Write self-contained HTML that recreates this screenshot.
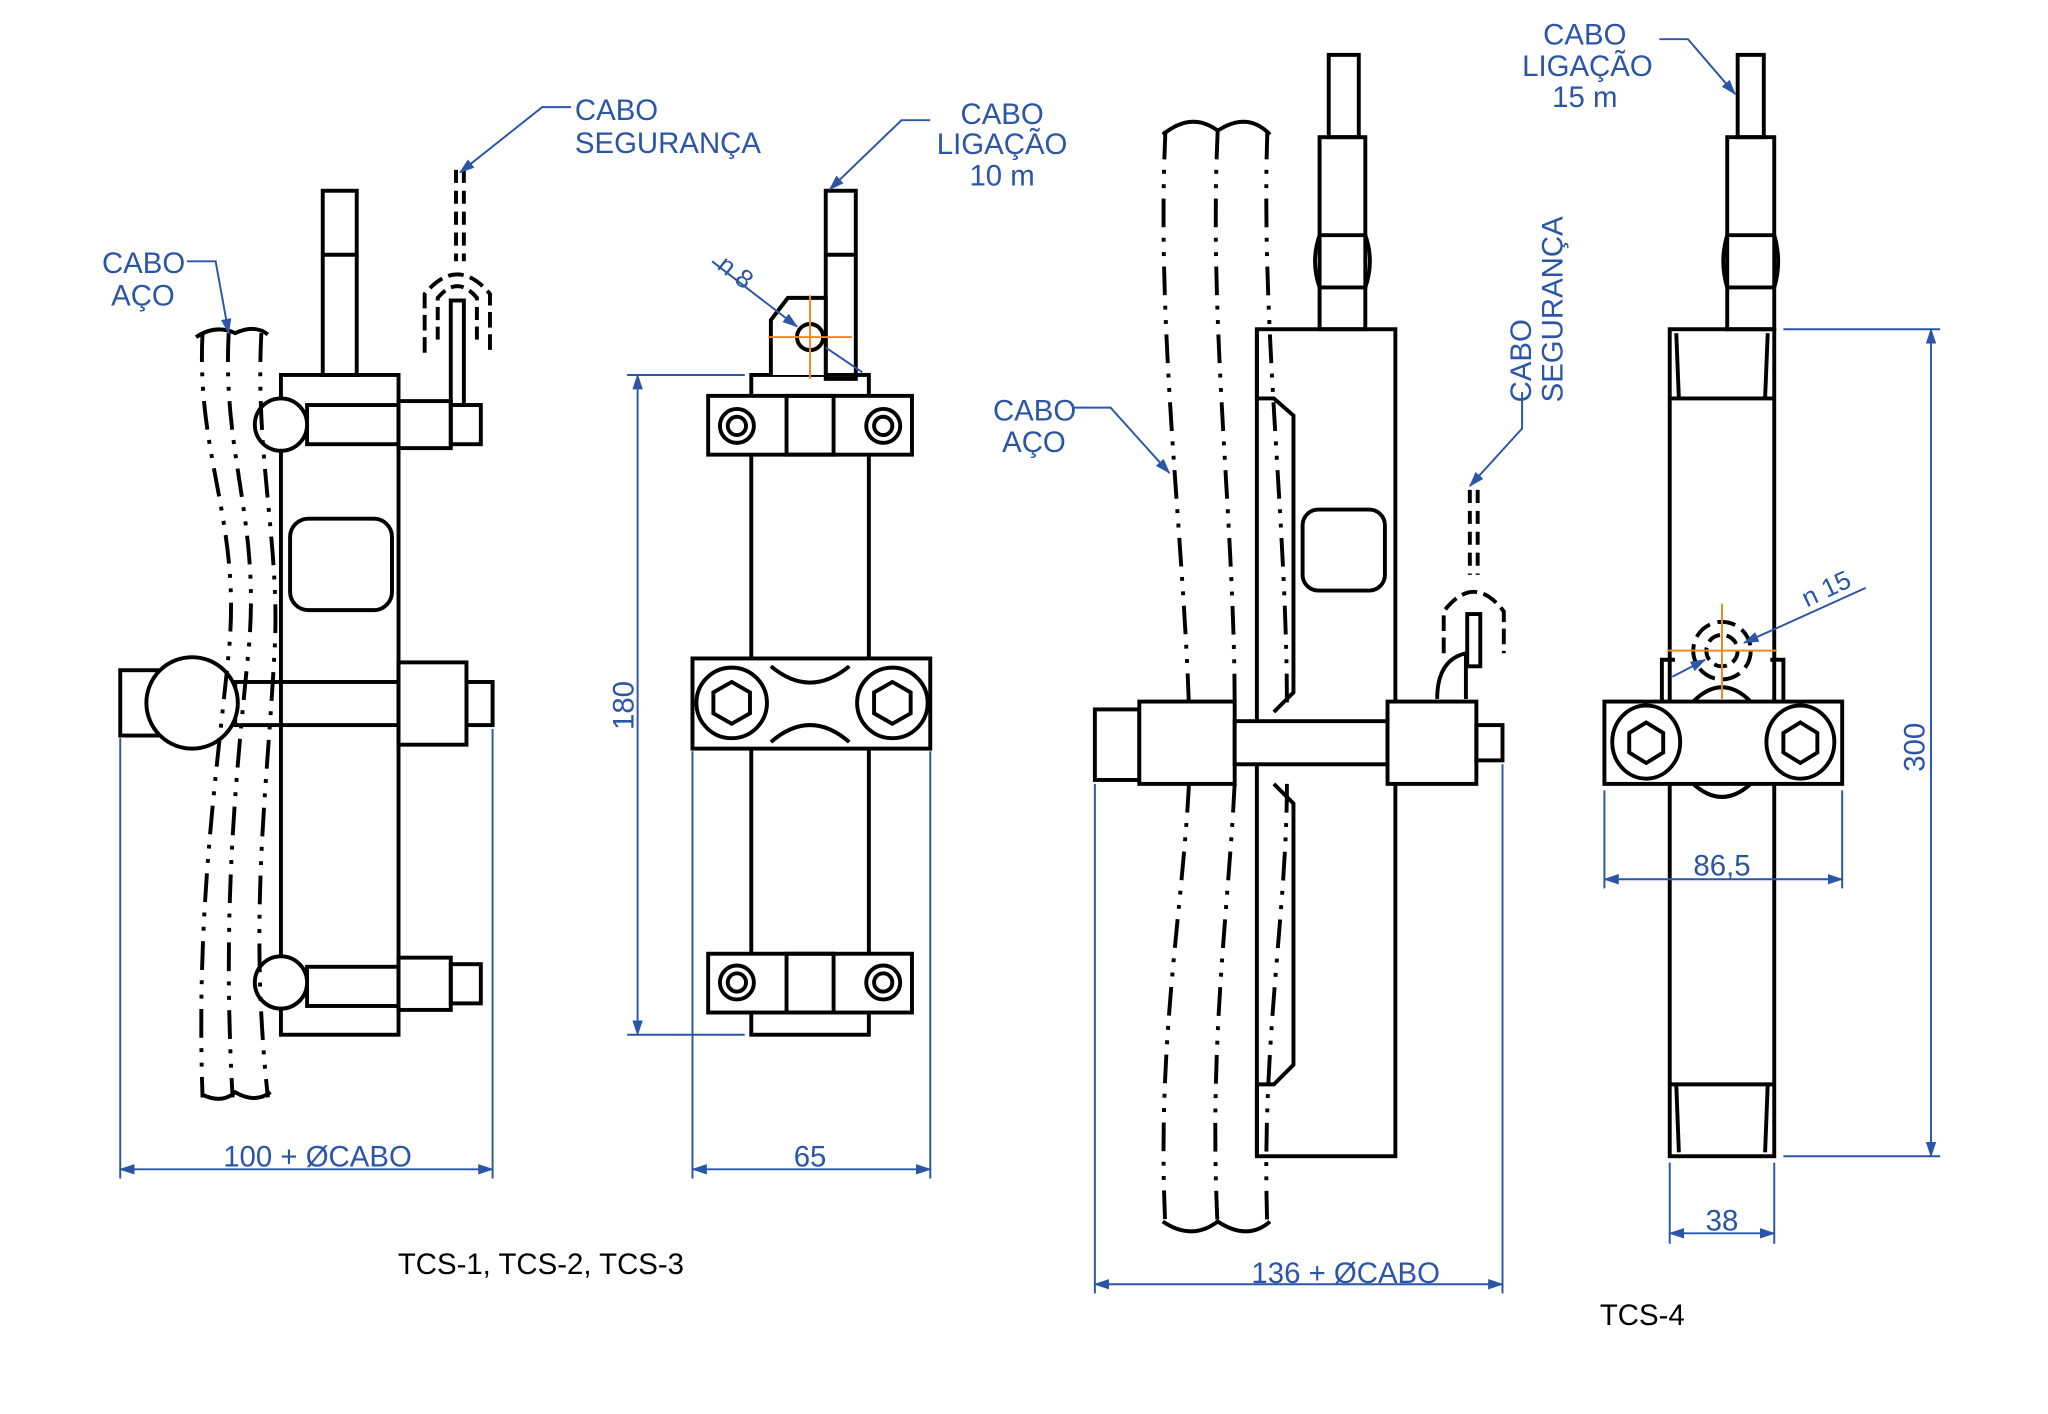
<!DOCTYPE html>
<html><head><meta charset="utf-8"><style>
html,body{margin:0;padding:0;background:#fff;}
svg{display:block;}
text{font-family:"Liberation Sans",sans-serif;}
</style></head><body>
<svg width="2048" height="1414" viewBox="0 0 1567.5 1082.3" xmlns="http://www.w3.org/2000/svg">
<defs>
<marker id="a" markerWidth="12" markerHeight="8" refX="11" refY="4" orient="auto" markerUnits="userSpaceOnUse"><path d="M0,0 L12,4 L0,8z" fill="#2b55a6"/></marker>
<marker id="b" markerWidth="12" markerHeight="8" refX="1" refY="4" orient="auto" markerUnits="userSpaceOnUse"><path d="M12,0 L0,4 L12,8z" fill="#2b55a6"/></marker>
</defs>
<rect width="1567.5" height="1082.3" fill="#fff"/>
<g fill="none" stroke="#000" stroke-width="3">
<!-- LEFT DRAWING -->
<rect x="215" y="287" width="90" height="505" fill="#fff"/>
<rect x="247" y="146" width="26" height="141"/>
<line x1="247" y1="195" x2="273" y2="195"/>
<rect x="222" y="397" width="78" height="70" rx="14"/>
<rect x="235" y="310" width="70" height="30"/>
<rect x="305" y="307" width="40" height="36"/><rect x="345" y="310" width="23" height="30"/>
<circle cx="215" cy="325" r="20" fill="#fff"/>
<rect x="92" y="513" width="33" height="50"/>
<rect x="180" y="522" width="125" height="33"/>
<rect x="305" y="507" width="52" height="63"/><rect x="357" y="522" width="20" height="33"/>
<circle cx="147" cy="538" r="35" fill="#fff"/>
<rect x="235" y="740" width="70" height="30"/>
<rect x="305" y="733" width="40" height="40"/><rect x="345" y="738" width="23" height="30"/>
<circle cx="215" cy="752" r="20" fill="#fff"/>
<g stroke-dasharray="22,8,3,8,3,8">
<path d="M155,255 C150,350 185,400 175,500 C165,600 150,700 155,840"/>
<path d="M175,255 C170,350 200,400 190,500 C180,600 170,700 178,840"/>
<path d="M200,255 C195,350 215,420 210,500 C205,600 190,700 205,840"/>
</g>
<path d="M150,258 Q165,248 180,255 Q195,248 205,256" />
<path d="M155,838 Q170,845 180,836 Q195,845 207,836"/>
<g stroke-dasharray="10,6"><line x1="349" y1="130" x2="349" y2="200"/><line x1="355" y1="130" x2="355" y2="200"/></g>
<path d="M325,270 L325,225 Q350,195 375,225 L375,270" stroke-dasharray="12,5"/>
<path d="M335,260 L335,228 Q350,210 365,228 L365,260" stroke-dasharray="10,5"/>
<rect x="345" y="230" width="10" height="80"/>
<!-- MIDDLE DRAWING -->
<rect x="575" y="287" width="90" height="505" fill="#fff"/>
<rect x="632" y="146" width="23" height="144"/>
<line x1="632" y1="195" x2="655" y2="195"/>
<path d="M590,287 L590,245 L603,228 L632,228 L632,287" fill="#fff"/>
<circle cx="620" cy="258" r="10"/>
<rect x="542" y="303" width="156" height="45" fill="#fff"/>
<rect x="602" y="303" width="36" height="45"/>
<circle cx="564" cy="326" r="13"/><circle cx="564" cy="326" r="7"/>
<circle cx="676" cy="326" r="13"/><circle cx="676" cy="326" r="7"/>
<rect x="530" y="504" width="182" height="69" fill="#fff"/>
<path d="M590,510 Q620,535 650,510 M590,568 Q620,542 650,568"/>
<circle cx="560" cy="538" r="27"/><polygon points="560,522 574,530 574,546 560,554 546,546 546,530"/>
<circle cx="683" cy="538" r="27"/><polygon points="683,522 697,530 697,546 683,554 669,546 669,530"/>
<rect x="542" y="730" width="156" height="45" fill="#fff"/>
<rect x="602" y="730" width="36" height="45"/>
<circle cx="564" cy="752" r="13"/><circle cx="564" cy="752" r="7"/>
<circle cx="676" cy="752" r="13"/><circle cx="676" cy="752" r="7"/>
<!-- THIRD DRAWING -->
<rect x="962" y="252" width="106" height="633" fill="#fff"/>
<path d="M962,252 L962,305 L975,305 L990,318 L990,530 L975,545 M975,600 L990,615 L990,815 L975,830 L962,830 L962,885" />
<rect x="1010" y="105" width="35" height="147"/>
<rect x="1017" y="42" width="23" height="63"/>
<path d="M1010,180 L1045,180 Q1052,200 1045,220 L1010,220 Q1003,200 1010,180z"/>
<rect x="997" y="390" width="63" height="62" rx="12"/>
<rect x="838" y="543" width="34" height="54"/>
<rect x="872" y="537" width="73" height="63" fill="#fff"/>
<rect x="945" y="552" width="117" height="33" fill="#fff"/>
<rect x="1062" y="537" width="68" height="63" fill="#fff"/>
<rect x="1130" y="555" width="20" height="27"/>
<path d="M1100,535 Q1100,505 1122,500 L1122,535"/>
<g stroke-dasharray="22,8,3,8,3,8">
<path d="M892,100 C885,250 905,400 910,540 M910,600 C905,700 885,800 892,940"/>
<path d="M932,100 C925,250 945,400 945,540 M945,600 C940,700 925,800 932,940"/>
<path d="M970,100 C965,250 985,400 985,540 M985,600 C985,700 965,800 970,940"/>
</g>
<path d="M890,103 Q912,85 932,100 Q955,85 972,103"/>
<path d="M890,935 Q912,950 932,935 Q955,950 972,935"/>
<g stroke-dasharray="10,6"><line x1="1125" y1="375" x2="1125" y2="440"/><line x1="1131" y1="375" x2="1131" y2="440"/></g>
<path d="M1105,500 L1105,468 Q1128,438 1151,468 L1151,500" stroke-dasharray="12,5"/>
<rect x="1123" y="470" width="10" height="40"/>
<!-- FOURTH DRAWING -->
<rect x="1278" y="252" width="80" height="633" fill="#fff"/>
<rect x="1322" y="105" width="36" height="147"/>
<rect x="1330" y="42" width="20" height="63"/>
<path d="M1322,180 L1358,180 Q1364,200 1358,220 L1322,220 Q1316,200 1322,180z"/>
<line x1="1278" y1="305" x2="1358" y2="305"/><line x1="1283" y1="255" x2="1285" y2="305"/><line x1="1353" y1="255" x2="1351" y2="305"/>
<line x1="1278" y1="830" x2="1358" y2="830"/><line x1="1283" y1="830" x2="1285" y2="882"/><line x1="1353" y1="830" x2="1351" y2="882"/>
<path d="M1272,537 L1272,505 L1282,505 M1355,505 L1365,505 L1365,537"/>
<circle cx="1318" cy="498" r="22" stroke-dasharray="14,6"/>
<circle cx="1318" cy="498" r="12" stroke-dasharray="10,5"/>
<path d="M1296,537 Q1318,515 1340,537 M1296,600 Q1318,620 1340,600"/>
<rect x="1228" y="537" width="182" height="63" fill="#fff"/>
<ellipse cx="1260" cy="568" rx="26" ry="28"/><polygon points="1260,553 1273,561 1273,576 1260,584 1247,576 1247,561"/>
<ellipse cx="1378" cy="568" rx="26" ry="28"/><polygon points="1378,553 1391,561 1391,576 1378,584 1365,576 1365,561"/>
</g>
<g stroke="#f08a1c" stroke-width="1.5">
<line x1="588" y1="258" x2="652" y2="258"/><line x1="620" y1="226" x2="620" y2="290"/>
<line x1="1276" y1="498" x2="1360" y2="498"/><line x1="1318" y1="462" x2="1318" y2="535"/>
</g>
<!-- DIMENSIONS / LEADERS -->
<g stroke="#2b55a6" stroke-width="1.5" fill="none">
<line x1="92" y1="565" x2="92" y2="902"/><line x1="377" y1="558" x2="377" y2="902"/>
<line x1="92" y1="895" x2="377" y2="895" marker-start="url(#b)" marker-end="url(#a)"/>
<line x1="480" y1="287" x2="570" y2="287"/><line x1="480" y1="792" x2="570" y2="792"/>
<line x1="488" y1="287" x2="488" y2="792" marker-start="url(#b)" marker-end="url(#a)"/>
<line x1="530" y1="575" x2="530" y2="902"/><line x1="712" y1="575" x2="712" y2="902"/>
<line x1="530" y1="895" x2="712" y2="895" marker-start="url(#b)" marker-end="url(#a)"/>
<line x1="838" y1="600" x2="838" y2="990"/><line x1="1150" y1="585" x2="1150" y2="990"/>
<line x1="838" y1="983" x2="1150" y2="983" marker-start="url(#b)" marker-end="url(#a)"/>
<line x1="1365" y1="252" x2="1485" y2="252"/><line x1="1365" y1="885" x2="1485" y2="885"/>
<line x1="1478" y1="252" x2="1478" y2="885" marker-start="url(#b)" marker-end="url(#a)"/>
<line x1="1228" y1="605" x2="1228" y2="680"/><line x1="1410" y1="605" x2="1410" y2="680"/>
<line x1="1228" y1="673" x2="1410" y2="673" marker-start="url(#b)" marker-end="url(#a)"/>
<line x1="1278" y1="890" x2="1278" y2="952"/><line x1="1358" y1="890" x2="1358" y2="952"/>
<line x1="1278" y1="944" x2="1358" y2="944" marker-start="url(#b)" marker-end="url(#a)"/>
<polyline points="143,200 165,200 175,255" marker-end="url(#a)"/>
<polyline points="437,82 415,82 352,132" marker-end="url(#a)"/>
<polyline points="712,92 690,92 635,145" marker-end="url(#a)"/>
<polyline points="545,200 610,250" marker-end="url(#a)"/>
<line x1="632" y1="266" x2="660" y2="285"/>
<polyline points="822,312 850,312 895,362" marker-end="url(#a)"/>
<polyline points="1270,30 1292,30 1328,72" marker-end="url(#a)"/>
<polyline points="1165,300 1165,328 1125,372" marker-end="url(#a)"/>
<polyline points="1428,450 1335,492" marker-end="url(#a)"/>
<line x1="1280" y1="518" x2="1305" y2="505" marker-end="url(#a)"/>
</g>
<g fill="#2b55a6" font-size="22.5">
<text x="78" y="209">CABO</text><text x="85" y="234">AÇO</text>
<text x="440" y="92">CABO</text><text x="440" y="117">SEGURANÇA</text>
<text x="767" y="95" text-anchor="middle">CABO</text><text x="767" y="118" text-anchor="middle">LIGAÇÃO</text><text x="767" y="142" text-anchor="middle">10 m</text>
<text x="1213" y="34" text-anchor="middle">CABO</text><text x="1215" y="58" text-anchor="middle">LIGAÇÃO</text><text x="1213" y="82" text-anchor="middle">15 m</text>
<text x="760" y="322">CABO</text><text x="767" y="346">AÇO</text>
<text transform="translate(1172,308) rotate(-90)">CABO</text>
<text transform="translate(1196,308) rotate(-90)">SEGURANÇA</text>
<text x="243" y="893" text-anchor="middle">100 + ØCABO</text>
<text x="620" y="893" text-anchor="middle">65</text>
<text x="1030" y="982" text-anchor="middle">136 + ØCABO</text>
<text x="1318" y="670" text-anchor="middle">86,5</text>
<text x="1318" y="942" text-anchor="middle">38</text>
<text transform="translate(485,540) rotate(-90)" text-anchor="middle">180</text>
<text transform="translate(1473,572) rotate(-90)" text-anchor="middle">300</text>
<text transform="translate(548,205) rotate(38)" font-size="20">n 8</text>
<text transform="translate(1383,465) rotate(-25)" font-size="20">n 15</text>
</g>
<g fill="#000" font-size="22.5">
<text x="414" y="975" text-anchor="middle">TCS-1, TCS-2, TCS-3</text>
<text x="1257" y="1014" text-anchor="middle">TCS-4</text>
</g>
</svg>
</body></html>
